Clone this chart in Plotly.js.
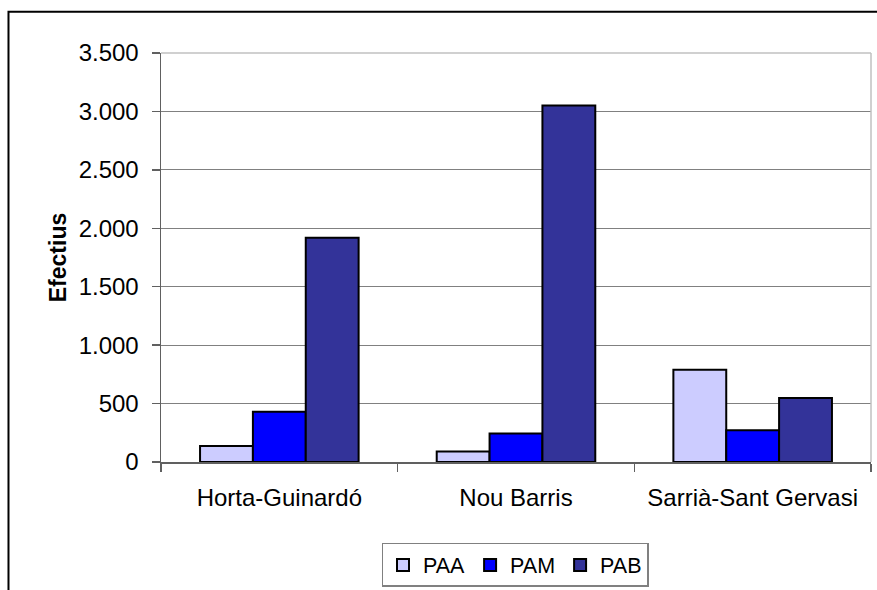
<!DOCTYPE html>
<html>
<head>
<meta charset="utf-8">
<script src="https://cdn.plot.ly/plotly-3.0.1.min.js"></script>
<style>
  html, body { margin: 0; padding: 0; background: #ffffff; }
  #chart { width: 877px; height: 590px; }
</style>
</head>
<body>
<div id="chart"></div>
<script>
// Data
const categories = ["Horta-Guinardó", "Nou Barris", "Sarrià-Sant Gervasi"];
const seriesNames = ["PAA", "PAM", "PAB"];
const paaValues = [137, 89, 790];
const pamValues = [429, 243, 272];
const pabValues = [1920, 3050, 548];
const yTickValues = [0, 500, 1000, 1500, 2000, 2500, 3000, 3500];

const colors = ["#CCCCFF", "#0000FF", "#333399"];
const seriesValues = [paaValues, pamValues, pabValues];

const traces = seriesNames.map((name, i) => ({
  type: "bar",
  name: name,
  x: categories,
  y: seriesValues[i],
  marker: { color: colors[i], line: { color: "#000000", width: 2 } },
  hoverinfo: "x+y+name"
}));

const FONT = "Liberation Sans, Arial, sans-serif";

const layout = {
  width: 877,
  height: 590,
  margin: { l: 161, r: 6, t: 53, b: 128, autoexpand: false },
  paper_bgcolor: "#ffffff",
  plot_bgcolor: "#ffffff",
  separators: ",.",
  barmode: "group",
  bargap: 0.33,
  bargroupgap: 0,
  font: { family: FONT, color: "#000000", size: 24 },
  showlegend: true,
  legend: {
    orientation: "h",
    xref: "paper",
    yref: "container",
    x: 0.4986,
    xanchor: "center",
    y: 0.0797,
    yanchor: "top",
    itemwidth: 30,
    bordercolor: "#808080",
    borderwidth: 1.5,
    bgcolor: "#ffffff",
    font: { family: FONT, size: 21.5, color: "#000000" },
    itemclick: false
  },
  xaxis: {
    type: "category",
    automargin: false,
    tickson: "boundaries",
    ticks: "outside",
    ticklen: 8,
    tickwidth: 1.5,
    tickcolor: "#606060",
    showline: true,
    linecolor: "#606060",
    linewidth: 1.5,
    showgrid: false,
    zeroline: false,
    ticklabelstandoff: 14,
    tickfont: { family: FONT, size: 24, color: "#000000" }
  },
  yaxis: {
    automargin: false,
    range: [0, 3500],
    tickvals: yTickValues,
    tickformat: ",d",
    ticks: "outside",
    ticklen: 8,
    tickwidth: 1.5,
    tickcolor: "#606060",
    showline: true,
    linecolor: "#606060",
    linewidth: 1.5,
    showgrid: true,
    gridcolor: "#808080",
    gridwidth: 1,
    zeroline: false,
    ticklabelstandoff: 8,
    tickfont: { family: FONT, size: 24, color: "#000000" },
    title: {
      text: "<b>Efectius</b>",
      font: { family: FONT, size: 23, color: "#000000" },
      standoff: 5
    }
  },
  shapes: [
    // plot area border (top and right), light grey
    { type: "line", xref: "paper", yref: "paper", x0: 0, x1: 1, y0: 1, y1: 1,
      line: { color: "#C0C0C0", width: 1.5 }, layer: "above" },
    { type: "line", xref: "paper", yref: "paper", x0: 1, x1: 1, y0: 0, y1: 1,
      line: { color: "#C0C0C0", width: 1.5 }, layer: "above" },
    // outer chart frame (extends past right and bottom edges)
    { type: "rect", xref: "paper", yref: "paper",
      x0: -0.2148, x1: 1.02, y0: -0.4, y1: 1.1006,
      line: { color: "#000000", width: 2 }, fillcolor: "rgba(0,0,0,0)", layer: "below" }
  ]
};

Plotly.newPlot("chart", traces, layout, { displayModeBar: false, staticPlot: true });
</script>
</body>
</html>
